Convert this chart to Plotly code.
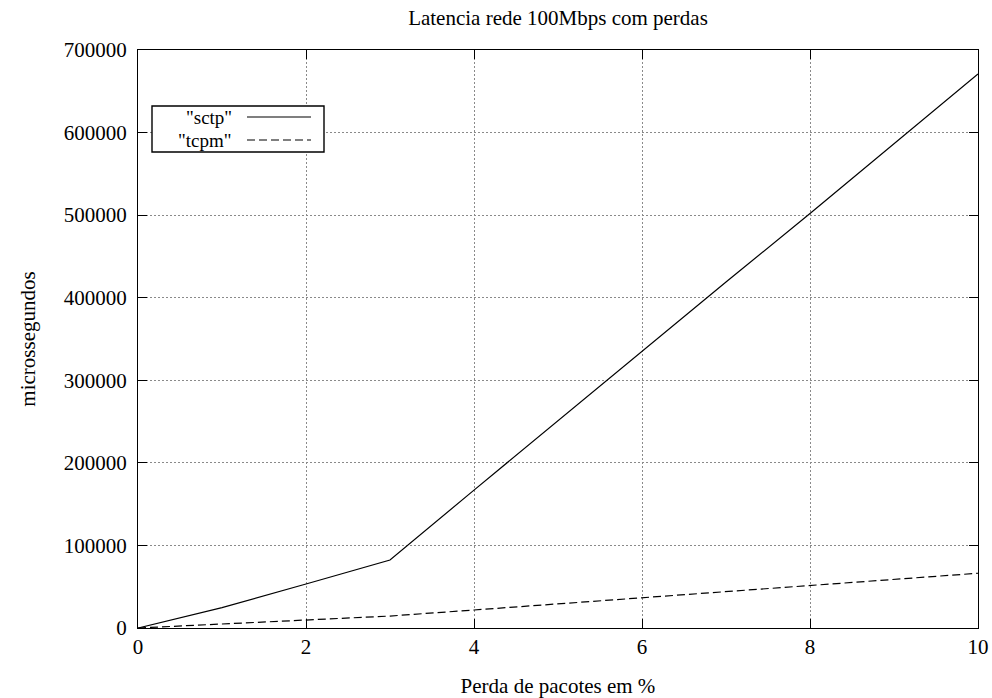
import plotly.graph_objects as go

# Packet loss (%) and measured latency (microseconds)
perda = [0, 1, 2, 3, 4, 5, 6, 7, 8, 9, 10]
sctp = [0, 24600, 53300, 82400, 167000, 251000, 336000, 419000, 502000, 587000, 671000]
tcpm = [0, 4800, 9700, 14500, 21800, 29200, 36700, 44200, 51700, 59000, 66300]

x_ticks = [0, 2, 4, 6, 8, 10]
y_ticks = [0, 100000, 200000, 300000, 400000, 500000, 600000, 700000]

FONT = "Liberation Serif"
FS = 21

fig = go.Figure()
fig.add_trace(go.Scatter(x=perda, y=sctp, mode="lines", name='"sctp"',
                         line=dict(color="black", width=1.2)))
fig.add_trace(go.Scatter(x=perda, y=tcpm, mode="lines", name='"tcpm"',
                         line=dict(color="black", width=1.2, dash="8px,4px")))

axis_common = dict(
    showline=True, linecolor="black", linewidth=1.2, mirror="ticks",
    ticks="inside", ticklen=9, tickwidth=1.2, tickcolor="black",
    showgrid=True, gridcolor="#8a8a8a", gridwidth=1, griddash="2px,2px",
    zeroline=False, automargin=False,
    tickfont=dict(family=FONT, size=FS, color="black"),
)

fig.update_xaxes(range=[0, 10], tickvals=x_ticks, ticktext=[str(v) for v in x_ticks],
                 title=dict(text="Perda de pacotes em %", font=dict(family=FONT, size=FS, color="black"),
                            standoff=20),
                 **axis_common)
fig.update_yaxes(range=[0, 700000], tickvals=y_ticks, ticktext=[str(v) for v in y_ticks],
                 ticklabelstandoff=6,
                 title=dict(text="microssegundos", font=dict(family=FONT, size=FS, color="black"),
                            standoff=22),
                 **axis_common)


def px(xp):
    return (xp - 138) / 840


def py(yp):
    return (628 - yp) / 578


# Key box in the upper left, text right-aligned with the line sample after it
KEY_FS = 19
ROW1, ROW2 = 117, 140
legend_shapes = [
    dict(type="rect", xref="paper", yref="paper",
         x0=px(152), x1=px(324), y0=py(152), y1=py(106),
         line=dict(color="black", width=1.4), fillcolor="white", layer="above"),
    dict(type="line", xref="paper", yref="paper",
         x0=px(247), x1=px(311), y0=py(ROW1), y1=py(ROW1),
         line=dict(color="black", width=1.2), layer="above"),
    dict(type="line", xref="paper", yref="paper",
         x0=px(247), x1=px(311), y0=py(ROW2), y1=py(ROW2),
         line=dict(color="black", width=1.2, dash="8px,4px"), layer="above"),
]
legend_labels = [
    dict(text='"sctp"', xref="paper", yref="paper", x=px(233), y=py(ROW1),
         xanchor="right", yanchor="middle", showarrow=False, borderpad=0,
         font=dict(family=FONT, size=KEY_FS, color="black")),
    dict(text='"tcpm"', xref="paper", yref="paper", x=px(233), y=py(ROW2),
         xanchor="right", yanchor="middle", showarrow=False, borderpad=0,
         font=dict(family=FONT, size=KEY_FS, color="black")),
]

fig.update_layout(
    width=992, height=698,
    margin=dict(l=138, r=14, t=50, b=70),
    paper_bgcolor="white", plot_bgcolor="white",
    showlegend=False,
    title=dict(text="Latencia rede 100Mbps com perdas", x=558 / 992, xanchor="center",
               y=1 - 18 / 698, yanchor="middle",
               font=dict(family=FONT, size=FS, color="black")),
    shapes=legend_shapes,
    annotations=legend_labels,
)

fig.write_html("out.html")
